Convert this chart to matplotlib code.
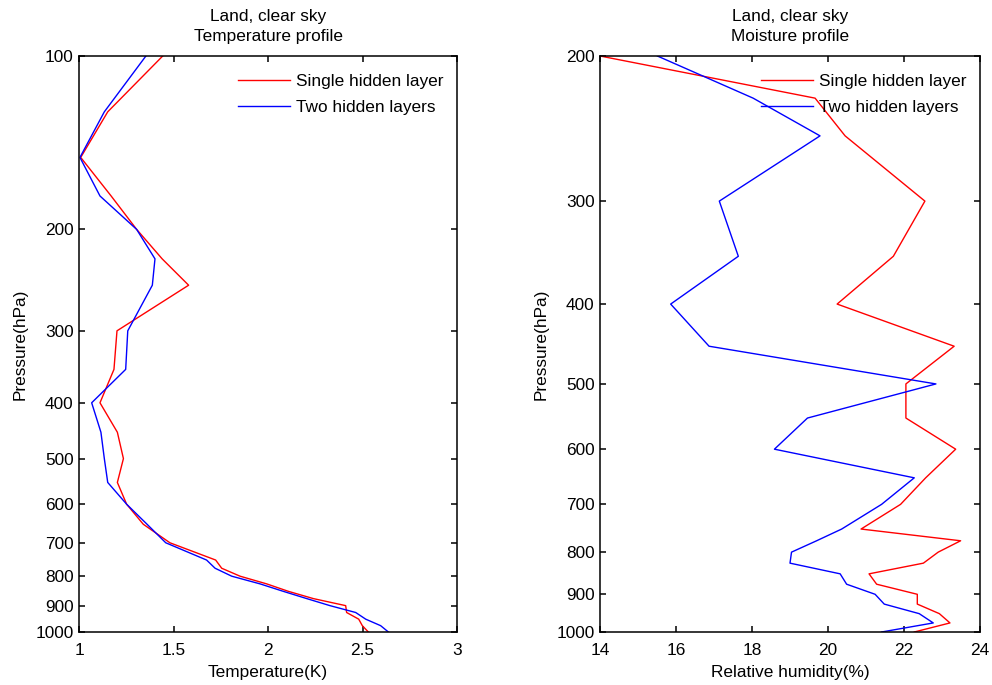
import matplotlib
matplotlib.use("Agg")
import matplotlib.pyplot as plt
from matplotlib.ticker import FixedLocator, FixedFormatter, NullLocator

plt.rcParams['font.family'] = ['Liberation Sans', 'DejaVu Sans']
plt.rcParams['font.size'] = 12.4

# Temperature profile (left)
temp_levels = [100, 125, 150, 175, 200, 225, 250, 300, 350, 400, 450, 500, 550,
               600, 650, 700, 750, 775, 800, 825, 850, 875, 900, 925, 950, 975, 1000]
temp_single = [1.443, 1.152, 1.009, 1.17, 1.305, 1.44, 1.580, 1.201, 1.185, 1.111,
               1.203, 1.235, 1.203, 1.252, 1.34, 1.481, 1.723, 1.755, 1.852, 1.993,
               2.108, 2.24, 2.411, 2.416, 2.48, 2.499, 2.531]
temp_two = [1.354, 1.134, 1.005, 1.111, 1.305, 1.402, 1.388, 1.258, 1.247, 1.067,
            1.116, 1.134, 1.152, 1.252, 1.36, 1.459, 1.675, 1.720, 1.808, 1.958,
            2.081, 2.205, 2.328, 2.464, 2.517, 2.596, 2.637]

# Moisture profile (right)
rh_levels = [200, 225, 250, 300, 350, 400, 450, 500, 550, 600, 650, 700, 750,
             775, 800, 825, 850, 875, 900, 925, 950, 975, 1000]
rh_single = [14.0, 19.66, 20.45, 22.55, 21.72, 20.24, 23.32, 22.05, 22.05, 23.36,
             22.57, 21.91, 20.87, 23.49, 22.9, 22.51, 21.08, 21.28, 22.35, 22.35,
             22.93, 23.21, 22.27]
rh_two = [15.51, 18.03, 19.79, 17.14, 17.64, 15.86, 16.87, 22.84, 19.46, 18.59,
          22.27, 21.41, 20.36, 19.7, 19.04, 19.0, 20.32, 20.49, 21.24, 21.48,
          22.4, 22.77, 21.41]

temp_yticks = [100, 200, 300, 400, 500, 600, 700, 800, 900, 1000]
rh_yticks = [200, 300, 400, 500, 600, 700, 800, 900, 1000]
temp_xticks = [1, 1.5, 2, 2.5, 3]
rh_xticks = [14, 16, 18, 20, 22, 24]

fig = plt.figure(figsize=(9.92, 6.85), dpi=100)
ax1 = fig.add_axes([79 / 992, 1 - 632 / 685, 378 / 992, 576 / 685])
ax2 = fig.add_axes([600 / 992, 1 - 632 / 685, 380 / 992, 576 / 685])


def style(ax, yticks, xticks, xlim, ylim):
    ax.set_yscale('log')
    ax.set_ylim(ylim[1], ylim[0])
    ax.set_xlim(*xlim)
    ax.yaxis.set_major_locator(FixedLocator(yticks))
    ax.yaxis.set_major_formatter(FixedFormatter([str(t) for t in yticks]))
    ax.yaxis.set_minor_locator(NullLocator())
    ax.set_xticks(xticks)
    ax.set_xticklabels([f"{t:g}" for t in xticks])
    ax.tick_params(direction='in', top=True, right=True, length=4.5, width=1.1,
                   labelsize=12.4)
    ax.tick_params(axis='y', pad=4)
    ax.tick_params(axis='x', pad=8)
    for s in ax.spines.values():
        s.set_linewidth(1.1)
    ax.legend(loc='upper right', frameon=False, handlelength=3.0,
              handletextpad=0.35, labelspacing=0.62, fontsize=12.4,
              bbox_to_anchor=(0.995, 0.99), borderaxespad=0.3)


ax1.plot(temp_single, temp_levels, color='red', lw=1.0, label='Single hidden layer')
ax1.plot(temp_two, temp_levels, color='blue', lw=1.0, label='Two hidden layers')
style(ax1, temp_yticks, temp_xticks, (1, 3), (100, 1000))
ax1.set_title('Land, clear sky\nTemperature profile', fontsize=12.4, pad=11,
              linespacing=1.4)
ax1.set_xlabel('Temperature(K)', labelpad=5)
ax1.set_ylabel('Pressure(hPa)', labelpad=5.5)

ax2.plot(rh_single, rh_levels, color='red', lw=1.0, label='Single hidden layer')
ax2.plot(rh_two, rh_levels, color='blue', lw=1.0, label='Two hidden layers')
style(ax2, rh_yticks, rh_xticks, (14, 24), (200, 1000))
ax2.set_title('Land, clear sky\nMoisture profile', fontsize=12.4, pad=11,
              linespacing=1.4)
ax2.set_xlabel('Relative humidity(%)', labelpad=5)
ax2.set_ylabel('Pressure(hPa)', labelpad=5.5)

fig.savefig('out.png', dpi=100)
